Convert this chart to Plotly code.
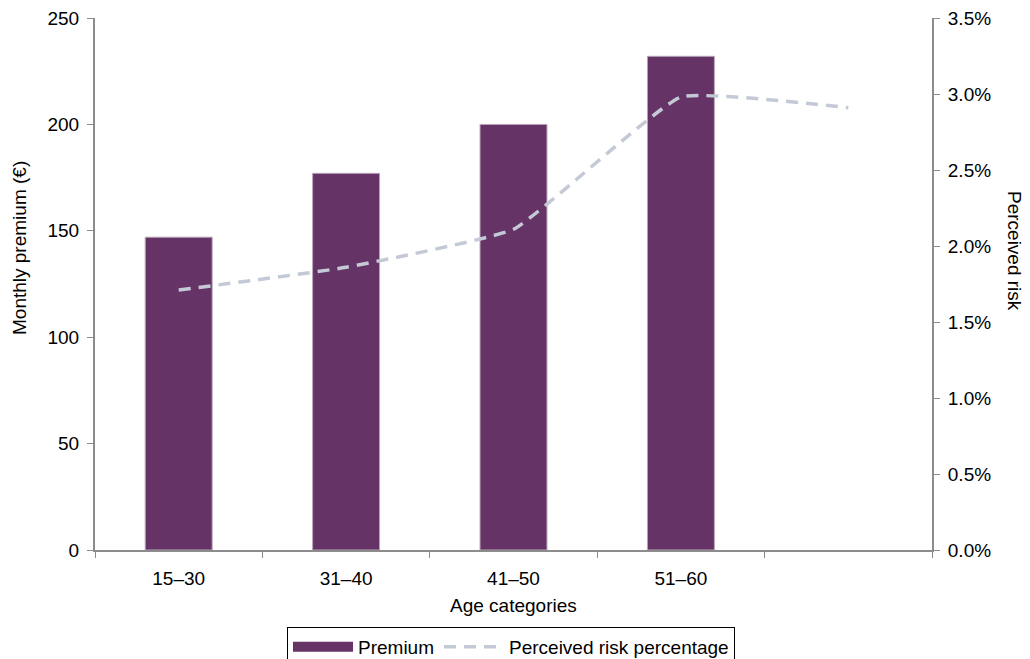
import plotly.graph_objects as go

categories = ["15–30", "31–40", "41–50", "51–60", " "]
premium = [147, 177, 200, 232, None]
risk_pct = [1.71, 1.86, 2.11, 2.98, 2.91]
left_ticks = [0, 50, 100, 150, 200, 250]
right_ticks = [0.0, 0.5, 1.0, 1.5, 2.0, 2.5, 3.0, 3.5]
right_labels = ["0.0%", "0.5%", "1.0%", "1.5%", "2.0%", "2.5%", "3.0%", "3.5%"]

FONT = "Liberation Sans, Arial, sans-serif"
AXIS_COLOR = "#8c8c8c"
BAR_COLOR = "#663366"
FS = 19

# page body has an 8px default margin, so the figure starts at (8, 8)
OFF = 8
W, H = 1030 - OFF, 659 - OFF
L, T = 95 - OFF, 18 - OFF
R = W - (932 - OFF)
B = H - (550 - OFF)
pw, ph = W - L - R, H - T - B


def px(x):
    return (x - OFF - L) / pw


def py(y):
    return (550 - y) / ph


fig = go.Figure()
fig.add_trace(go.Bar(
    x=categories, y=premium, name="Premium", width=0.4,
    marker=dict(color=BAR_COLOR, line=dict(color="#b9a6b9", width=1)),
    yaxis="y", showlegend=False,
))
# legend entry for the bars drawn as a wide filled rectangle
fig.add_trace(go.Scatter(
    x=[None], y=[None], name="Premium", mode="lines",
    line=dict(color=BAR_COLOR, width=11), yaxis="y", showlegend=True,
))
fig.add_trace(go.Scatter(
    x=categories, y=risk_pct, name="Perceived risk percentage", mode="lines",
    line=dict(color="#c4c9d6", width=3.5, dash="12px,8px", shape="spline", smoothing=0.35),
    yaxis="y2",
))

axis_common = dict(ticks="outside", ticklen=6, tickcolor=AXIS_COLOR, showline=True,
                   linecolor=AXIS_COLOR, linewidth=2, showgrid=False,
                   tickfont=dict(size=FS))

fig.update_layout(
    width=W, height=H,
    margin=dict(l=L, r=R, t=T, b=B, autoexpand=False),
    paper_bgcolor="white", plot_bgcolor="white",
    font=dict(family=FONT, size=FS, color="black"),
    showlegend=True,
    legend=dict(orientation="h", x=px(511), xanchor="center", y=py(627), yanchor="top",
                bordercolor="black", borderwidth=1, font=dict(size=FS),
                traceorder="normal", itemwidth=60),
    xaxis=dict(
        type="category", categoryorder="array", categoryarray=categories,
        range=[-0.5, 4.5], tickson="boundaries", ticklabelstandoff=10, **axis_common,
    ),
    yaxis=dict(
        range=[0, 250], tickmode="array", tickvals=left_ticks, zeroline=False,
        ticklabelstandoff=4, ticklabeloverflow="allow", **axis_common,
    ),
    yaxis2=dict(
        range=[0, 3.5], tickmode="array", tickvals=right_ticks, ticktext=right_labels,
        overlaying="y", side="right", zeroline=False, ticklabelstandoff=4,
        ticklabeloverflow="allow", **axis_common,
    ),
    annotations=[
        dict(text="Monthly premium (€)", x=px(20), y=py(248), xref="paper", yref="paper",
             xanchor="center", yanchor="middle",
             showarrow=False, textangle=-90, font=dict(size=FS)),
        dict(text="Perceived risk", x=px(1015), y=py(251), xref="paper", yref="paper",
             xanchor="center", yanchor="middle",
             showarrow=False, textangle=90, font=dict(size=FS)),
        dict(text="Age categories", x=px(513), y=py(606), xref="paper", yref="paper",
             xanchor="center", yanchor="middle",
             showarrow=False, font=dict(size=FS)),
    ],
)

fig.write_html("out.html")
